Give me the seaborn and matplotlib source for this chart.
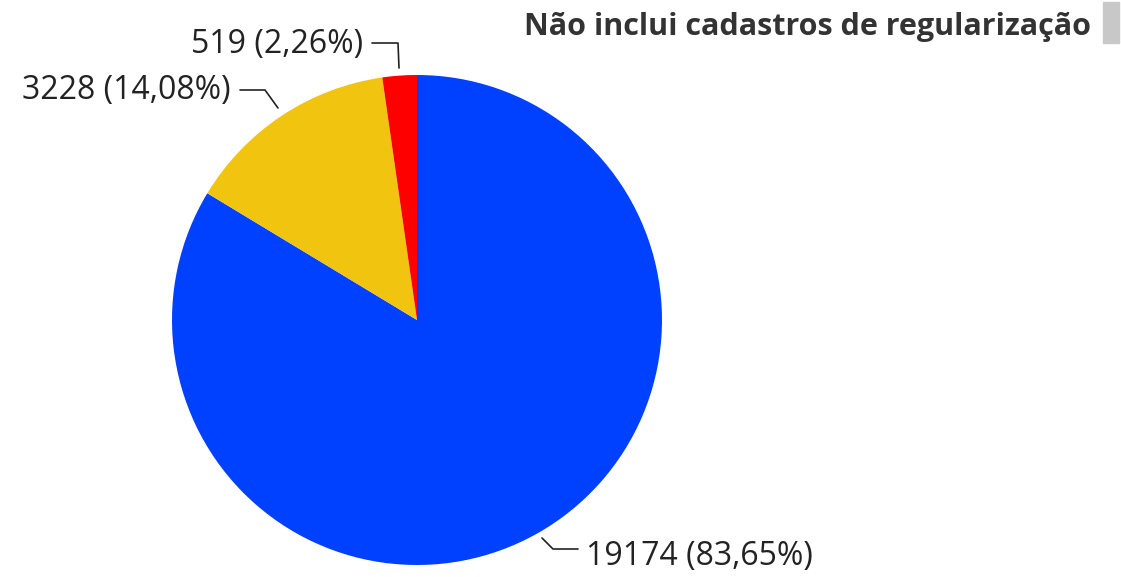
import matplotlib
matplotlib.use("Agg")
import matplotlib.pyplot as plt
import seaborn as sns

values = [19174, 3228, 519]
percent_labels = ["19174 (83,65%)", "3228 (14,08%)", "519 (2,26%)"]
colors = ["#0041ff", "#f1c40f", "#ff0000"]
title = "Não inclui cadastros de regularização"

sns.set_theme(style="white")
plt.rcParams['font.family'] = ['Open Sans', 'DejaVu Sans']

W, H = 1121, 577
fig = plt.figure(figsize=(W / 100, H / 100), dpi=100)
ax = fig.add_axes([0, 0, 1, 1])

ax.pie(values, colors=colors, startangle=90, counterclock=False,
       center=(417, H - 320), radius=245, frame=True,
       wedgeprops=dict(linewidth=0))
ax.set_xlim(0, W)
ax.set_ylim(0, H)
ax.set_aspect('equal')
ax.axis('off')

def Y(y):
    return H - y

txt_kw = dict(fontsize=23, color="#222222")
# 19174 label
ax.plot([542, 553, 578], [Y(538), Y(549), Y(549)], color="#222222", lw=1.2)
ax.text(586, Y(557), percent_labels[0], ha="left", va="center", **txt_kw)
# 3228 label
ax.plot([240, 265, 278], [Y(90), Y(90), Y(108)], color="#222222", lw=1.2)
ax.text(231, Y(90), percent_labels[1], ha="right", va="center", **txt_kw)
# 519 label
ax.plot([372, 398, 399], [Y(43), Y(43), Y(68)], color="#222222", lw=1.2)
ax.text(363, Y(44), percent_labels[2], ha="right", va="center", **txt_kw)

# title
fig.text(1091 / W, 1 - 27 / H, title, ha="right", va="center",
         fontsize=22, fontweight="bold", color="#333333")
fig.patches.append(plt.Rectangle((1103 / W, 1 - 43 / H), 16 / W, 41 / H,
                                 transform=fig.transFigure, color="#c8c8c8"))

fig.savefig("out.png", dpi=100)
